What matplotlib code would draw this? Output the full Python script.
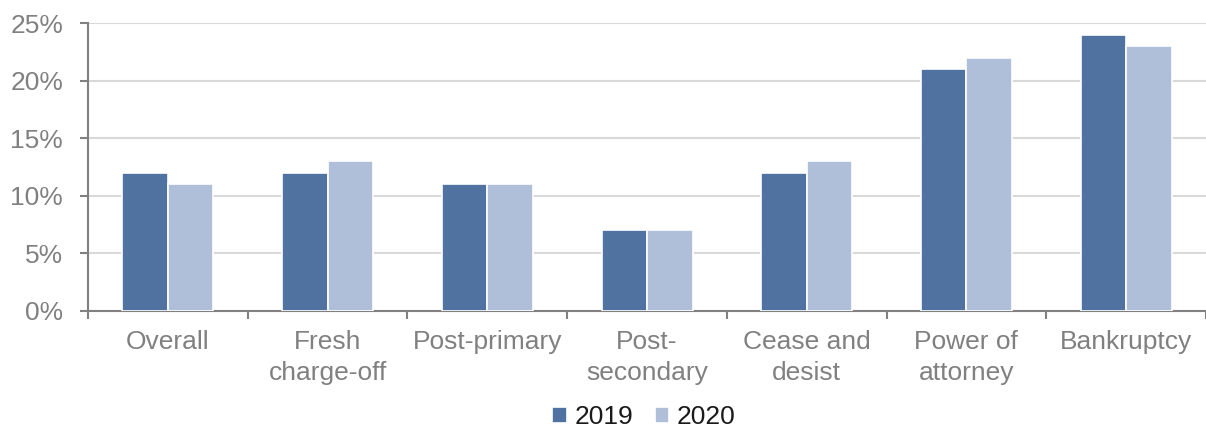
import numpy as np
import matplotlib.pyplot as plt
from matplotlib.ticker import FixedLocator, PercentFormatter

plt.rcParams['font.family'] = ['Liberation Sans', 'DejaVu Sans']

categories = ['Overall', 'Fresh\ncharge-off', 'Post-primary', 'Post-\nsecondary',
              'Cease and\ndesist', 'Power of\nattorney', 'Bankruptcy']
vals_2019 = [12, 12, 11, 7, 12, 21, 24]
vals_2020 = [11, 13, 11, 7, 13, 22, 23]
series_names = ['2019', '2020']

c_dark = '#4F72A1'
c_light = '#B0BFD9'
grey = '#808080'

fig = plt.figure(figsize=(12.06, 4.3), dpi=100)
ax = fig.add_axes([0.073, 0.277, 0.927, 0.6695])

x = np.arange(len(categories))
w = 0.285
ax.bar(x - w/2, vals_2019, w, color=c_dark, edgecolor='white', linewidth=1.2, label=series_names[0], zorder=3)
ax.bar(x + w/2, vals_2020, w, color=c_light, edgecolor='white', linewidth=1.2, label=series_names[1], zorder=3)

ax.set_xlim(-0.5, len(categories) - 0.5)
ax.set_ylim(0, 25)
ax.set_yticks([0, 5, 10, 15, 20, 25])
ax.yaxis.set_major_formatter(PercentFormatter(decimals=0))
ax.grid(axis='y', color='#d9d9d9', linewidth=1.5, zorder=0)

ax.set_xticks(x)
ax.set_xticklabels(categories, linespacing=1.35)
ax.xaxis.set_minor_locator(FixedLocator(np.arange(-0.5, len(categories), 1.0)))
ax.tick_params(axis='x', which='major', length=0, pad=14, labelsize=19, labelcolor=grey)
ax.tick_params(axis='x', which='minor', length=6, width=1.5, color=grey, direction='out')
ax.tick_params(axis='y', length=6, width=1.5, color=grey, pad=12, labelsize=19, labelcolor=grey)

for s in ['top', 'right']:
    ax.spines[s].set_visible(False)
for s in ['left', 'bottom']:
    ax.spines[s].set_color(grey)
    ax.spines[s].set_linewidth(1.5)

leg = fig.legend(loc='center', bbox_to_anchor=(0.534, 0.03), ncol=2, frameon=False,
                 fontsize=19, handlelength=0.55, handleheight=0.55, handletextpad=0.3,
                 columnspacing=0.8, labelcolor='#1a1a1a')

fig.savefig('out.png', dpi=100)
